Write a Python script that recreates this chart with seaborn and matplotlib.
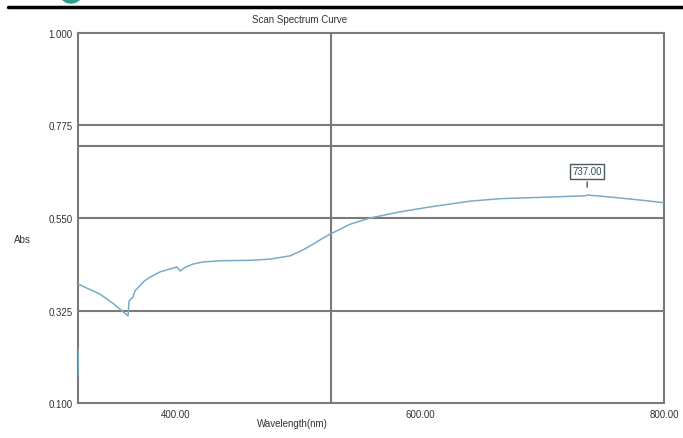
import matplotlib.pyplot as plt
import matplotlib.patches as mpatches
import seaborn as sns
import pandas as pd

# spectrum (nm, Abs); segment 0 is the short start-up glitch
wavelength = [320.0, 320.2,
              320.3, 329.8, 338.0, 349.3, 354.4, 361.0, 361.8, 365.1,
              366.7, 374.4, 379.0, 387.2, 395.4, 401.1, 403.6, 407.7, 414.3, 422.5,
              436.4, 461.0, 477.4, 493.8, 502.0, 510.2, 518.4, 526.6, 543.0, 559.3,
              583.9, 608.5, 641.3, 665.9, 706.9, 735.6, 737.0, 756.0, 772.5, 788.9,
              800.0]
absorbance = [0.166, 0.231,
              0.389, 0.376, 0.365, 0.341, 0.328, 0.312, 0.348, 0.358,
              0.373, 0.397, 0.406, 0.419, 0.426, 0.431, 0.421, 0.430, 0.438, 0.443,
              0.446, 0.447, 0.450, 0.458, 0.469, 0.482, 0.497, 0.511, 0.535, 0.550,
              0.565, 0.577, 0.591, 0.597, 0.601, 0.604, 0.606, 0.601, 0.596, 0.591,
              0.587]
segment = [0, 0] + [1] * 39

y_ticks = [0.100, 0.325, 0.550, 0.775, 1.000]
x_ticks = [400, 600, 800]
cursor_x = 527
cursor_y = 0.726
peak_wl = 737.0
peak_abs = 0.606

sns.set_style("white")
plt.rcParams["font.family"] = ["Liberation Sans", "DejaVu Sans"]

df = pd.DataFrame({"Wavelength": wavelength, "Abs": absorbance, "seg": segment})

fig = plt.figure(figsize=(6.83, 4.39), dpi=100)
ax = fig.add_axes([0.1142, 0.0797, 0.858, 0.8429])

grid_col = "#7a7a7a"
for yv in [0.325, 0.550, 0.775, cursor_y]:
    ax.axhline(yv, color=grid_col, lw=1.5, zorder=1)
ax.axvline(cursor_x, color=grid_col, lw=1.5, zorder=1)

sns.lineplot(data=df, x="Wavelength", y="Abs", units="seg", estimator=None,
             ax=ax, color="#78acc4", lw=1.1, zorder=3, sort=False)

# peak marker
ax.annotate(f"{peak_wl:.2f}", xy=(peak_wl, peak_abs + 0.012),
            xytext=(peak_wl, peak_abs + 0.058), ha="center", va="center",
            fontsize=7, color="#2f4f55",
            bbox=dict(boxstyle="square,pad=0.25", fc="white", ec="#4a5a5a", lw=1),
            arrowprops=dict(arrowstyle="-", color="#4a5a5a", lw=1))

ax.set_xlim(320, 800)
ax.set_ylim(0.100, 1.000)
ax.set_yticks(y_ticks)
ax.set_yticklabels([f"{v:.3f}" for v in y_ticks])
ax.set_xticks(x_ticks)
ax.set_xticklabels([f"{v:.2f}" for v in x_ticks])
ax.tick_params(length=0, labelsize=7, colors="#333333", pad=4)
ax.set_xlabel("")
ax.set_ylabel("")
for s in ax.spines.values():
    s.set_color(grid_col)
    s.set_linewidth(1.5)

fig.text(300 / 683, 1 - 20 / 439, "Scan Spectrum Curve", ha="center", va="center",
         fontsize=7, color="#333333")
fig.text(22 / 683, 1 - 240 / 439, "Abs", ha="center", va="center",
         fontsize=7, color="#333333")
fig.text(292 / 683, 1 - 424 / 439, "Wavelength(nm)", ha="center", va="center",
         fontsize=7, color="#333333")

# page decoration at the top
fig.add_artist(plt.Line2D([8 / 683, 1], [1 - 8 / 439, 1 - 8 / 439], color="black",
                          lw=2.5, transform=fig.transFigure))
fig.add_artist(mpatches.Ellipse((71 / 683, 1 + 8 / 439), 24 / 683, 24 / 439,
                                color="#2aa08c", transform=fig.transFigure))

fig.savefig("out.png", dpi=100)
